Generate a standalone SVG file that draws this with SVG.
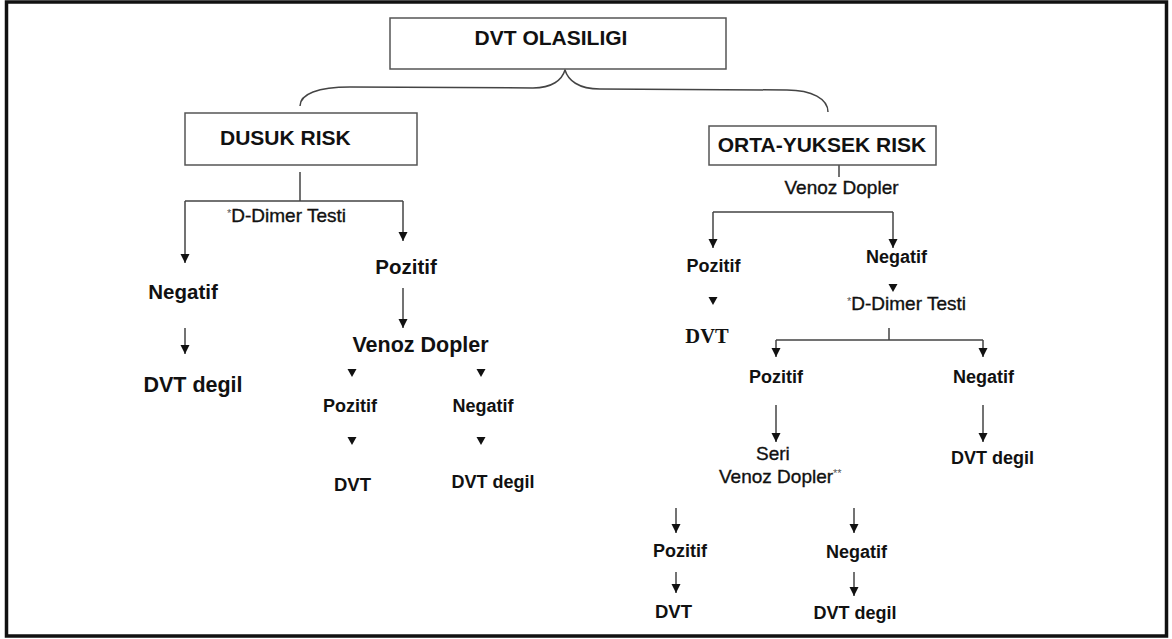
<svg xmlns="http://www.w3.org/2000/svg" width="1172" height="639" viewBox="0 0 1172 639">
<defs>
<style>
text{font-family:"Liberation Sans",Arial,sans-serif;fill:#111}
.b{font-weight:bold}
.m{stroke:#111;stroke-width:0.35}
.c{text-anchor:middle}
.box{fill:#fff;stroke:#555;stroke-width:1.5}
.ln{fill:none;stroke:#444;stroke-width:1.5}
.ar{marker-end:url(#ah)}
.serif{font-family:"Liberation Serif","Times New Roman",serif}
.ast{font-size:11px;fill:#555;stroke:none}
</style>
<marker id="ah" viewBox="0 0 10 10" markerUnits="userSpaceOnUse" markerWidth="9" markerHeight="10" refX="10" refY="5" orient="auto">
<path d="M0,0 L10,5 L0,10 z" fill="#111"/>
</marker>
<path id="tri" d="M-4.5,0 L4.5,0 L0,8 z" fill="#111"/>
</defs>
<rect x="0" y="0" width="1172" height="639" fill="#fff"/>
<rect x="6.5" y="2" width="1160" height="634" fill="none" stroke="#111" stroke-width="3.5"/>

<g id="connectors">
<path class="ln" d="M300,106 C300,94 318,87 350,87 L533,88 C552,88 562,80 565,70 C568,80 578,89 600,89 L787,90 C812,90 828,99 828,112"/>
<path class="ln" d="M300,172 V201 M185,201 H403"/>
<path class="ln ar" d="M185,201 V263"/>
<path class="ln ar" d="M403,201 V241"/>
<path class="ln ar" d="M185,328 V354"/>
<path class="ln ar" d="M403,288 V328"/>
<use href="#tri" x="352" y="369"/>
<use href="#tri" x="481" y="369"/>
<use href="#tri" x="352" y="437"/>
<use href="#tri" x="481" y="437"/>
<path class="ln" d="M839,165 V177 M713,212 H893"/>
<path class="ln ar" d="M713,212 V248"/>
<path class="ln ar" d="M893,212 V248"/>
<use href="#tri" x="713" y="297"/>
<use href="#tri" x="893" y="284"/>
<path class="ln" d="M889,328 V340 M776,340 H983"/>
<path class="ln ar" d="M776,340 V357"/>
<path class="ln ar" d="M983,340 V357"/>
<path class="ln ar" d="M776,405 V442"/>
<path class="ln ar" d="M983,405 V442"/>
<path class="ln ar" d="M676,508 V533"/>
<path class="ln ar" d="M854,508 V533"/>
<path class="ln ar" d="M676,572 V593"/>
<path class="ln ar" d="M854,572 V596"/>
</g>

<g id="n-dvt-olasiligi">
<rect class="box" x="390" y="18" width="336" height="51"/>
<text class="b c" x="551" y="45" font-size="21">DVT OLASILIGI</text>
</g>
<g id="n-dusuk-risk">
<rect class="box" x="185" y="113" width="232" height="52"/>
<text class="b" x="220" y="145" font-size="21">DUSUK RISK</text>
</g>
<g id="n-orta-yuksek-risk">
<rect class="box" x="709" y="126" width="227" height="39"/>
<text class="b c" x="822" y="152" font-size="21">ORTA-YUKSEK RISK</text>
</g>

<g id="n-l-ddimer"><text class="m" x="227" y="222" font-size="19"><tspan class="ast" dy="-5">*</tspan><tspan dy="5">D-Dimer Testi</tspan></text></g>
<g id="n-l-negatif"><text class="b c" x="183" y="299" font-size="20.5">Negatif</text></g>
<g id="n-l-dvtdegil"><text class="b c" x="193" y="392" font-size="21.5">DVT degil</text></g>
<g id="n-l-pozitif"><text class="b c" x="406" y="274" font-size="20.5">Pozitif</text></g>
<g id="n-l-venoz"><text class="b c" x="420.5" y="352" font-size="21.5">Venoz Dopler</text></g>
<g id="n-l-pozitif2"><text class="b c" x="350" y="412" font-size="18">Pozitif</text></g>
<g id="n-l-negatif2"><text class="b c" x="483" y="412" font-size="18">Negatif</text></g>
<g id="n-l-dvt"><text class="b c" x="352.5" y="491" font-size="18.5">DVT</text></g>
<g id="n-l-dvtdegil2"><text class="b c" x="493" y="488" font-size="18">DVT degil</text></g>

<g id="n-r-venoz"><text class="c m" x="841.5" y="194" font-size="19">Venoz Dopler</text></g>
<g id="n-r-pozitif"><text class="b c" x="713.5" y="272" font-size="18">Pozitif</text></g>
<g id="n-r-negatif"><text class="b c" x="896.5" y="263" font-size="18">Negatif</text></g>
<g id="n-r-dvt"><text class="b c serif" x="707" y="343" font-size="20.5">DVT</text></g>
<g id="n-r-ddimer"><text class="m" x="847" y="310" font-size="19"><tspan class="ast" dy="-5">*</tspan><tspan dy="5">D-Dimer Testi</tspan></text></g>
<g id="n-r-pozitif2"><text class="b c" x="776" y="383" font-size="18">Pozitif</text></g>
<g id="n-r-negatif2"><text class="b c" x="983.5" y="383" font-size="18">Negatif</text></g>
<g id="n-r-seri"><text class="m" x="719" y="460" font-size="19"><tspan x="756">Seri</tspan><tspan x="719" y="483">Venoz Dopler</tspan><tspan class="ast" dy="-6">**</tspan></text></g>
<g id="n-r-dvtdegil"><text class="b c" x="992.5" y="464" font-size="18">DVT degil</text></g>
<g id="n-r-pozitif3"><text class="b c" x="680" y="557" font-size="18">Pozitif</text></g>
<g id="n-r-negatif3"><text class="b c" x="856.5" y="558" font-size="18">Negatif</text></g>
<g id="n-r-dvt3"><text class="b c" x="673.5" y="618" font-size="18.5">DVT</text></g>
<g id="n-r-dvtdegil3"><text class="b c" x="855" y="619" font-size="18">DVT degil</text></g>
</svg>
